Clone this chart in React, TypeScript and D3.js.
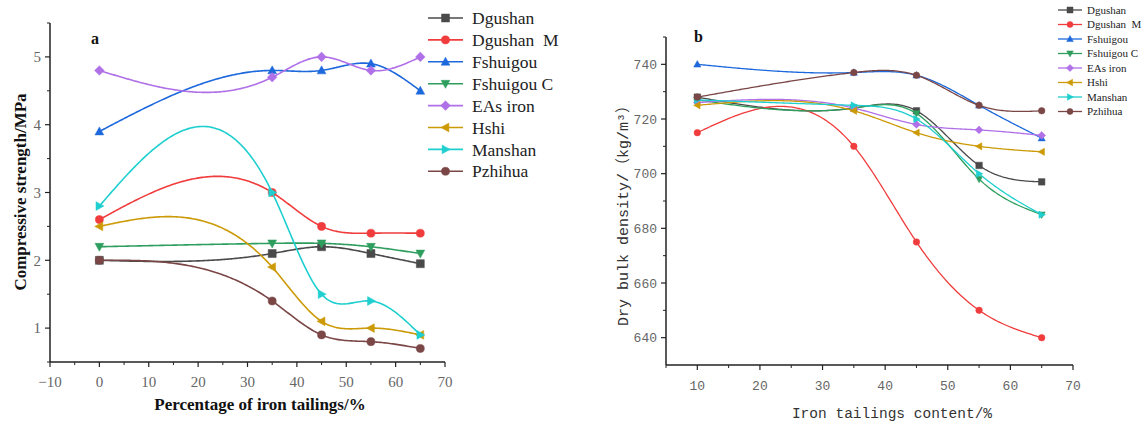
import React from "react";
import * as d3 from "d3";

const seriesNames = ["Dgushan", "Dgushan  M", "Fshuigou", "Fshuigou C", "EAs iron", "Hshi", "Manshan", "Pzhihua"];
const colors = ["#4a4a4a", "#f03c3c", "#1c68dc", "#2e9e5e", "#b070e8", "#cc9a06", "#1fcfcf", "#7a4646"];
const shapes = ["square", "circle", "up", "down", "diamond", "left", "right", "circle"];

// Panel a: compressive strength
const xA = [0, 35, 45, 55, 65];
const dgushanA = [2.0, 2.1, 2.2, 2.1, 1.95];
const dgushanMA = [2.6, 3.0, 2.5, 2.4, 2.4];
const fshuigouA = [3.9, 4.8, 4.8, 4.9, 4.5];
const fshuigouCA = [2.2, 2.25, 2.25, 2.2, 2.1];
const easIronA = [4.8, 4.7, 5.0, 4.8, 5.0];
const hshiA = [2.5, 1.9, 1.1, 1.0, 0.9];
const manshanA = [2.8, 3.0, 1.5, 1.4, 0.9];
const pzhihuaA = [2.0, 1.4, 0.9, 0.8, 0.7];
const seriesA = [dgushanA, dgushanMA, fshuigouA, fshuigouCA, easIronA, hshiA, manshanA, pzhihuaA];
const xTicksA = [-10, 0, 10, 20, 30, 40, 50, 60, 70];
const yTicksA = [1, 2, 3, 4, 5];

// Panel b: dry bulk density
const xB = [10, 35, 45, 55, 65];
const dgushanB = [728, 724, 723, 703, 697];
const dgushanMB = [715, 710, 675, 650, 640];
const fshuigouB = [740, 737, 736, 725, 713];
const fshuigouCB = [727, 724, 722, 698, 685];
const easIronB = [726, 724, 718, 716, 714];
const hshiB = [725, 723, 715, 710, 708];
const manshanB = [727, 725, 720, 700, 685];
const pzhihuaB = [728, 737, 736, 725, 723];
const seriesB = [dgushanB, dgushanMB, fshuigouB, fshuigouCB, easIronB, hshiB, manshanB, pzhihuaB];
const xTicksB = [10, 20, 30, 40, 50, 60, 70];
const yTicksB = [640, 660, 680, 700, 720, 740];

// natural cubic spline y(x) in data space (as Origin's "Spline" connection)
function naturalSpline(xs: number[], ys: number[]) {
  const n = xs.length;
  const h = d3.range(n - 1).map((i) => xs[i + 1] - xs[i]);
  const M = new Array(n).fill(0);
  const m = n - 2;
  if (m > 0) {
    const a: number[] = [], b: number[] = [], c: number[] = [], r: number[] = [];
    for (let i = 1; i <= m; i++) {
      a.push(h[i - 1]);
      b.push(2 * (h[i - 1] + h[i]));
      c.push(h[i]);
      r.push(6 * ((ys[i + 1] - ys[i]) / h[i] - (ys[i] - ys[i - 1]) / h[i - 1]));
    }
    for (let i = 1; i < m; i++) {
      const w = a[i] / b[i - 1];
      b[i] -= w * c[i - 1];
      r[i] -= w * r[i - 1];
    }
    const sol = new Array(m).fill(0);
    sol[m - 1] = r[m - 1] / b[m - 1];
    for (let i = m - 2; i >= 0; i--) sol[i] = (r[i] - c[i] * sol[i + 1]) / b[i];
    for (let i = 0; i < m; i++) M[i + 1] = sol[i];
  }
  return (t: number) => {
    let i = 0;
    while (i < n - 2 && t > xs[i + 1]) i++;
    const hh = h[i];
    const A = xs[i + 1] - t;
    const B = t - xs[i];
    return (
      (M[i] * A * A * A) / (6 * hh) +
      (M[i + 1] * B * B * B) / (6 * hh) +
      (ys[i] / hh - (M[i] * hh) / 6) * A +
      (ys[i + 1] / hh - (M[i + 1] * hh) / 6) * B
    );
  };
}

function markerPath(shape: string, s: number): string {
  const h = s / 2;
  switch (shape) {
    case "square":
      return `M${-h},${-h}H${h}V${h}H${-h}Z`;
    case "up":
      return `M0,${-h * 1.15}L${h * 1.1},${h * 0.85}L${-h * 1.1},${h * 0.85}Z`;
    case "down":
      return `M0,${h * 1.15}L${h * 1.1},${-h * 0.85}L${-h * 1.1},${-h * 0.85}Z`;
    case "left":
      return `M${-h * 1.15},0L${h * 0.85},${-h * 1.1}L${h * 0.85},${h * 1.1}Z`;
    case "right":
      return `M${h * 1.15},0L${-h * 0.85},${-h * 1.1}L${-h * 0.85},${h * 1.1}Z`;
    case "diamond":
      return `M0,${-h * 1.2}L${h * 1.2},0L0,${h * 1.2}L${-h * 1.2},0Z`;
    default:
      return d3.symbol(d3.symbolCircle, s * s * 0.8)() as string;
  }
}

function Marker({ x, y, shape, color, size }: any) {
  return <path d={markerPath(shape, size)} transform={`translate(${x},${y})`} fill={color} stroke={color} strokeWidth={0.5} />;
}

function Panel(props: any) {
  const { xs, series, xDomain, yDomain, xRange, yRange, xTicks, xMinor, yTicks, yMinor, lw, ms, tickFont, tickSize, labelX, labelY, label } = props;
  const x = d3.scaleLinear().domain(xDomain).range(xRange);
  const y = d3.scaleLinear().domain(yDomain).range(yRange);
  const line = d3
    .line<[number, number]>()
    .x((d) => x(d[0]))
    .y((d) => y(d[1]));
  const samples = d3.range(0, 201).map((k) => xs[0] + ((xs[xs.length - 1] - xs[0]) * k) / 200);
  const x0 = xRange[0];
  const yb = yRange[0];
  return (
    <g>
      <line x1={x0} x2={x0} y1={yRange[1]} y2={yb} stroke="#222" strokeWidth={1.5} />
      <line x1={x0} x2={xRange[1]} y1={yb} y2={yb} stroke="#222" strokeWidth={1.5} />
      {xMinor.map((t: number) => (
        <line key={"xm" + t} x1={x(t)} x2={x(t)} y1={yb} y2={yb + 3} stroke="#222" strokeWidth={1} />
      ))}
      {xTicks.map((t: number) => (
        <g key={"x" + t}>
          <line x1={x(t)} x2={x(t)} y1={yb} y2={yb + 5} stroke="#222" strokeWidth={1.2} />
          <text x={x(t)} y={yb + 25} textAnchor="middle" fontFamily={tickFont} fontSize={tickSize} fill="#666">
            {String(t).replace("-", "\u2212")}
          </text>
        </g>
      ))}
      {yMinor.map((t: number) => (
        <line key={"ym" + t} x1={x0 - 3} x2={x0} y1={y(t)} y2={y(t)} stroke="#222" strokeWidth={1} />
      ))}
      {yTicks.map((t: number) => (
        <g key={"y" + t}>
          <line x1={x0 - 5} x2={x0} y1={y(t)} y2={y(t)} stroke="#222" strokeWidth={1.2} />
          <text x={x0 - 9} y={y(t)} dy="0.35em" textAnchor="end" fontFamily={tickFont} fontSize={tickSize} fill="#666">
            {String(t)}
          </text>
        </g>
      ))}
      <text x={labelX} y={labelY} fontFamily="'Liberation Serif', serif" fontWeight="bold" fontSize={16} fill="#111">
        {label}
      </text>
      {series.map((vals: number[], si: number) => {
        const f = naturalSpline(xs, vals);
        const pts = samples.map((t) => [t, f(t)] as [number, number]);
        return (
          <g key={"s" + si}>
            <path d={line(pts) as string} fill="none" stroke={colors[si]} strokeWidth={lw} />
            {vals.map((v, i) => (
              <Marker key={i} x={x(xs[i])} y={y(v)} shape={shapes[si]} color={colors[si]} size={ms} />
            ))}
          </g>
        );
      })}
    </g>
  );
}

function Legend({ x, y, gap, lineLen, fontSize, ms, lw, textGap }: any) {
  return (
    <g>
      {seriesNames.map((n, i) => (
        <g key={n} transform={`translate(${x},${y + i * gap})`}>
          <line x1={0} x2={lineLen} y1={0} y2={0} stroke={colors[i]} strokeWidth={lw} />
          <Marker x={lineLen / 2} y={0} shape={shapes[i]} color={colors[i]} size={ms} />
          <text x={lineLen + textGap} y={0} dy="0.35em" fontFamily="'Liberation Serif', serif" fontSize={fontSize} fill="#222" style={{ whiteSpace: "pre" }}>
            {n}
          </text>
        </g>
      ))}
    </g>
  );
}

export default function App() {
  const range = (a: number, b: number, s: number) => d3.range(a, b + 1e-9, s);
  return (
    <svg width={1143} height={421} style={{ position: "absolute", left: 0, top: 0, background: "#fff" }}>
      <Panel
        xs={xA}
        series={seriesA}
        xDomain={[-10, 70]}
        yDomain={[0.5, 5.5]}
        xRange={[50, 445]}
        yRange={[362, 23]}
        xTicks={xTicksA}
        xMinor={range(-5, 65, 10)}
        yTicks={yTicksA}
        yMinor={range(0.5, 5.5, 1)}
        lw={1.6}
        ms={8}
        tickFont="'Liberation Serif', serif"
        tickSize={15}
        labelX={91}
        labelY={44}
        label="a"
      />
      <text transform="translate(26,192) rotate(-90)" textAnchor="middle" fontFamily="'Liberation Serif', serif" fontWeight="bold" fontSize={17} fill="#111">
        Compressive strength/MPa
      </text>
      <text x={260} y={410} textAnchor="middle" fontFamily="'Liberation Serif', serif" fontWeight="bold" fontSize={17} fill="#111">
        Percentage of iron tailings/%
      </text>
      <Legend x={428} y={18} gap={21.9} lineLen={35} fontSize={17.5} ms={8} lw={1.6} textGap={9} />

      <Panel
        xs={xB}
        series={seriesB}
        xDomain={[5, 70]}
        yDomain={[630, 750]}
        xRange={[666, 1073]}
        yRange={[365, 37]}
        xTicks={xTicksB}
        xMinor={range(5, 65, 10)}
        yTicks={yTicksB}
        yMinor={range(650, 750, 20)}
        lw={1.3}
        ms={6.5}
        tickFont="'Liberation Mono', monospace"
        tickSize={13}
        labelX={694}
        labelY={42}
        label="b"
      />
      <text transform="translate(628,212) rotate(-90)" textAnchor="middle" fontFamily="'Liberation Mono', 'Noto Sans CJK SC', monospace" fontSize={15} fill="#333">
        Dry bulk density/（kg/m³）
      </text>
      <text x={892} y={418} textAnchor="middle" fontFamily="'Liberation Mono', monospace" fontSize={14.5} fill="#333">
        Iron tailings content/%
      </text>
      <Legend x={1058} y={10} gap={14.5} lineLen={24} fontSize={11} ms={6} lw={1.3} textGap={5} />
    </svg>
  );
}
